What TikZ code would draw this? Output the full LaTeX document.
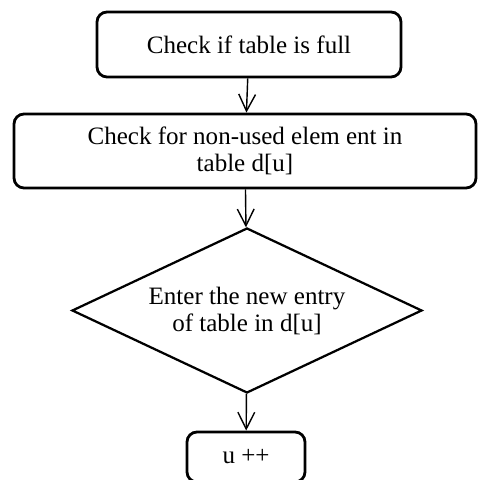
\documentclass[tikz,border=0pt]{standalone}
\usepackage{fontspec}
\setmainfont{Liberation Serif}
\usetikzlibrary{arrows.meta,shapes.geometric}

\begin{document}
\begin{tikzpicture}[font=\fontsize{17.8}{19.2}\selectfont,
        box/.style={draw,line width=2pt,rounded corners=0.25cm,
                    inner sep=0pt,align=center},
        dia/.style={draw,line width=1.6pt,diamond,aspect=2.1,
                    inner sep=0pt,align=center},
        arr/.style={-{Straight Barb[length=4.2mm,width=4.2mm]},line width=1pt}]
        \useasboundingbox (0,0) rectangle (12.225,12);
        \node[box,minimum width=7.6cm,minimum height=1.625cm] (full) at (6.225,10.8875) {Check if table is full};
        \node[box,minimum width=11.55cm,minimum height=1.85cm] (free) at (6.125,8.225) {Check for non-used elem ent in\\ table d[u]};
        \node[dia,minimum width=8.75cm,minimum height=4.125cm] (entry) at (6.175,4.2375) {Enter the new entry\\ of table in d[u]};
        \node[box,minimum width=2.95cm,minimum height=1.25cm] (inc) at (6.15,0.575) {u ++};
        \draw[arr] (full) -- (free);
        \draw[arr] (free) -- (entry);
        \draw[arr] (entry) -- (inc);
      \end{tikzpicture}
\end{document}
